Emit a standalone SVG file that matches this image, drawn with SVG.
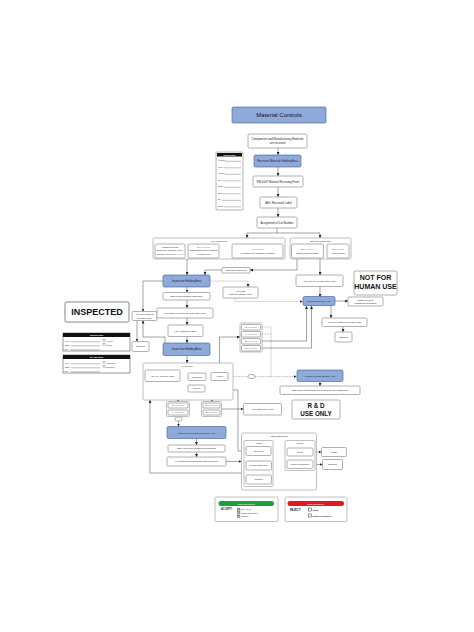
<svg xmlns="http://www.w3.org/2000/svg" width="474" height="632" viewBox="0 0 474 632">
<defs>
<marker id="ah" viewBox="0 0 6 6" refX="6" refY="3" markerWidth="3" markerHeight="3" markerUnits="userSpaceOnUse" orient="auto"><path d="M0,0 L6,3 L0,6 z" fill="#222"/></marker>
<style>
.b{fill:#fff;stroke:#707070;stroke-width:0.55}
.g{fill:#fff;stroke:#8a8a8a;stroke-width:0.55}
.h{fill:#8eaadb;stroke:#3d5a8a;stroke-width:0.6}
.t{font-family:"Liberation Sans",Arial,sans-serif;font-size:2.8px;fill:#222;text-anchor:middle}
.s{font-family:"Liberation Sans",Arial,sans-serif;font-size:2.35px;fill:#222;text-anchor:middle}
.l{font-family:"Liberation Sans",Arial,sans-serif;font-size:2.2px;fill:#222}
.big{font-family:"Liberation Sans",Arial,sans-serif;font-weight:bold;fill:#111;text-anchor:middle}
.c{fill:none;stroke:#333;stroke-width:0.45}
.ca{fill:none;stroke:#333;stroke-width:0.45;marker-end:url(#ah)}
.d{fill:none;stroke:#555;stroke-width:0.45;stroke-dasharray:0.8 0.8}
.da{fill:none;stroke:#555;stroke-width:0.45;stroke-dasharray:0.8 0.8;marker-end:url(#ah)}
.fl{stroke:#222;stroke-width:0.3}
</style>
</defs>
<rect width="474" height="632" fill="#fff"/>

<g id="connectors">
<path class="ca" d="M278,148 V155"/>
<path class="ca" d="M278,167 V176"/>
<path class="ca" d="M278,187 V197"/>
<path class="ca" d="M278,208 V217"/>
<path class="c" d="M277,228 V233"/>
<path class="ca" d="M277,233 H247 V238"/>
<path class="ca" d="M277,233 H320 V238"/>
<path class="ca" d="M187,259 V275"/>
<path class="ca" d="M297,258 V270 H250"/>
<path class="ca" d="M222,270 H205 V275"/>
<path class="ca" d="M320,259 V275"/>
<path class="ca" d="M320,286.5 V297"/>
<path class="ca" d="M335,301 H348"/>
<path class="ca" d="M331,305.5 V318"/>
<path class="ca" d="M343,326.5 V332"/>
<path class="da" d="M210,281 H248 V287"/>
<path class="da" d="M235,298 V301.5 H302.5"/>
<path class="ca" d="M163,281 H143 V311.5"/>
<path class="ca" d="M165,343 V337 H143 V320.5"/>
<path class="ca" d="M137,320.5 V341.5"/>
<path class="ca" d="M187,287 V292.5"/>
<path class="ca" d="M187,300 V308"/>
<path class="ca" d="M187,318 V325"/>
<path class="ca" d="M187,336.5 V343"/>
<path class="ca" d="M187,355.5 V363"/>
<path class="ca" d="M180,376 H188"/>
<path class="ca" d="M206,376.5 H211"/>
<path class="ca" d="M197,380.5 V385"/>
<path class="ca" d="M219.5,372.5 V337 H240"/>
<path class="da" d="M228,376.5 H296.5"/>
<path class="d" d="M262,327 H271 V376.5"/>
<path class="d" d="M262,334 H271"/>
<path class="ca" d="M262,341 H306.5 V306"/>
<path class="ca" d="M262,348 H311.5 V306"/>
<path class="ca" d="M320,381.5 V386"/>
<path class="c" d="M196.5,392 V396 M178,396 H212"/>
<path class="ca" d="M178,396 V401.5"/>
<path class="ca" d="M212,396 V401.5"/>
<path class="ca" d="M178.5,421 V426.5"/>
<path class="ca" d="M221.5,409 H243.5"/>
<path class="ca" d="M196.5,438.5 V445"/>
<path class="ca" d="M196.5,452 V457"/>
<path class="ca" d="M226,461.5 H241.5"/>
<path class="c" d="M258.5,470 V475"/>
<path class="ca" d="M258.5,473 H150 V400"/>
<path class="ca" d="M246,451 H238 V390 H219.5 V381"/>
<path class="ca" d="M313,452 H321.5"/>
<path class="ca" d="M313,464.5 H322.5"/>
<rect x="248" y="374.5" width="7" height="4" rx="2" class="b"/>
<rect x="175" y="417" width="7" height="4" rx="2" class="b"/>
</g>

<g id="title"><rect x="232" y="107" width="94" height="16" rx="1.5" class="h"/><text x="279" y="117" class="big" style="font-weight:normal;font-size:6px">Material Controls</text></g>

<g id="received"><rect x="248" y="134" width="59" height="14" rx="1.5" class="b"/><text x="277.5" y="140" class="t">Components and Manufacturing Materials</text><text x="277.5" y="144" class="t">are received</text></g>
<g id="rmha"><rect x="254" y="155" width="47" height="12" rx="1.5" class="h"/><text x="277.5" y="162" class="t">Received Materials Holding Area</text></g>
<g id="fm0007"><rect x="253" y="176" width="50" height="11" rx="1.5" class="b"/><text x="278" y="182.5" class="t">FM-0007 Material Receiving Form</text></g>
<g id="affixrec"><rect x="260" y="197" width="37" height="11" rx="1.5" class="b"/><text x="278.5" y="203.5" class="t">Affix 'Received' Label</text></g>
<g id="lotnum"><rect x="257" y="217" width="40" height="11" rx="1.5" class="b"/><text x="277" y="223.5" class="t">Assignment of Lot Number</text></g>

<g id="recvtag">
<rect x="216" y="152" width="27" height="58" rx="1" fill="#fff" stroke="#666" stroke-width="0.5"/>
<rect x="217" y="153" width="25" height="3.5" fill="#111"/>
<text x="229.5" y="155.6" class="s" style="fill:#fff;font-weight:bold">RECEIVED</text>
<text x="218" y="161" class="l">Vendor:</text><line x1="225" y1="161.3" x2="241" y2="161.3" class="fl"/>
<text x="218" y="167.5" class="l">P.O.#:</text><line x1="224" y1="167.8" x2="241" y2="167.8" class="fl"/>
<text x="218" y="174" class="l">Lot No.:</text><line x1="225" y1="174.3" x2="241" y2="174.3" class="fl"/>
<text x="218" y="180.5" class="l">Qty.:</text><line x1="223" y1="180.8" x2="241" y2="180.8" class="fl"/>
<text x="218" y="187" class="l">Desc.:</text><line x1="224" y1="187.3" x2="241" y2="187.3" class="fl"/>
<text x="218" y="193.5" class="l">Date:</text><line x1="223" y1="193.8" x2="241" y2="193.8" class="fl"/>
<text x="218" y="200" class="l">By:</text><line x1="222" y1="200.3" x2="241" y2="200.3" class="fl"/>
<text x="218" y="206.5" class="l">Dept.:</text><line x1="224" y1="206.8" x2="241" y2="206.8" class="fl"/>
</g>

<g id="humanuse">
<rect x="153" y="238" width="132" height="21" rx="1.5" class="g"/>
<text x="219" y="241.8" class="s">For Human Use</text>
<rect x="155" y="244" width="30" height="14" rx="1.2" class="b"/>
<text x="170" y="248" class="s">Finished Goods</text>
<text x="170" y="251.3" class="s" textLength="27" lengthAdjust="spacingAndGlyphs">External: Unique Lot #</text>
<text x="170" y="254.6" class="s" textLength="27" lengthAdjust="spacingAndGlyphs">Internal: XLC(1)-(R-#####)</text>
<rect x="188" y="244" width="31" height="14" rx="1.2" class="b"/>
<text x="203.5" y="248" class="s">M-YY-XXXX</text>
<text x="203.5" y="251.3" class="s" textLength="28" lengthAdjust="spacingAndGlyphs">Manufacturing Lot Build</text>
<text x="203.5" y="254.6" class="s">(Human Use)</text>
<rect x="232" y="244" width="51" height="14" rx="1.2" class="b"/>
<text x="257.5" y="250" class="s">V-YY-XXXX</text>
<text x="257.5" y="253.5" class="s">Verification &amp; Validation Lot Build</text>
</g>

<g id="notforhuman">
<rect x="290" y="238" width="61" height="21" rx="1.5" class="g"/>
<text x="320.5" y="241.8" class="s">Not For Human Use</text>
<rect x="291.5" y="244" width="32" height="14" rx="1.2" class="b"/>
<text x="307.5" y="250" class="s">E-YY-XXXX</text>
<text x="307.5" y="253.5" class="s">Engineering Lot Build</text>
<rect x="327" y="244" width="22" height="14" rx="1.2" class="b"/>
<text x="338" y="250" class="s">S-YY-XXXX</text>
<text x="338" y="253.5" class="s">Alpha release</text>
</g>

<g id="iha1"><rect x="163" y="275" width="47" height="12" rx="1.5" class="h"/><text x="186.5" y="282" class="t">Inspection Holding Area</text></g>
<g id="checklist"><rect x="222" y="267.5" width="28" height="5.5" rx="1" class="b"/><text x="236" y="271" class="s">Inspection Checklist</text></g>
<g id="transfer"><rect x="223" y="287" width="35" height="11" rx="1.2" class="b"/><text x="240.5" y="291.5" class="s">FM-0023</text><text x="240.5" y="295" class="s">Material Transfer Form</text></g>
<g id="affixnfhu"><rect x="296" y="275" width="47" height="11.5" rx="1.5" class="b"/><text x="319.5" y="281.8" class="s">Affix 'Not For Human Use' Label</text></g>
<g id="msa"><rect x="303" y="296.5" width="32" height="9" rx="1.5" class="h"/><text x="319" y="302" class="s">Materials Storage Area</text></g>
<g id="wims"><rect x="348" y="297" width="35" height="9" rx="1.2" class="b"/><text x="365.5" y="300.8" class="s">Waste Inventory</text><text x="365.5" y="304" class="s">Management System</text></g>
<g id="relform"><rect x="322" y="318" width="45" height="8.5" rx="1.2" class="b"/><text x="344.5" y="323" class="s">FM-0069 Material Release Form</text></g>
<g id="shipped1"><rect x="335" y="332" width="17" height="10" rx="1.2" class="b"/><text x="343.5" y="337.8" class="s">Shipped</text></g>
<g id="nfhu"><rect x="354" y="271" width="43" height="24" rx="1.5" class="b"/><text x="375.5" y="280.3" class="big" style="font-size:7px">NOT FOR</text><text x="375.5" y="289.3" class="big" style="font-size:7px">HUMAN USE</text></g>

<g id="inspected"><rect x="65" y="302" width="64" height="20" rx="1.5" fill="#fff" stroke="#333" stroke-width="0.6"/><text x="97" y="315.3" class="big" style="font-size:9px">INSPECTED</text></g>
<g id="tag1">
<rect x="63" y="333" width="67" height="18" fill="#fff" stroke="#333" stroke-width="0.5"/>
<rect x="63" y="333" width="67" height="4" fill="#111"/>
<text x="96.5" y="336.2" class="s" style="fill:#fff;font-weight:bold">INSPECTED</text>
<text x="65" y="341.5" class="l">Lot #:</text><line x1="71" y1="341.8" x2="100" y2="341.8" class="fl"/>
<rect x="103" y="339.6" width="2" height="2" fill="none" stroke="#222" stroke-width="0.25"/><text x="106" y="341.5" class="l">Accept</text>
<text x="65" y="345.5" class="l">Date:</text><line x1="71" y1="345.8" x2="100" y2="345.8" class="fl"/>
<rect x="103" y="343.6" width="2" height="2" fill="none" stroke="#222" stroke-width="0.25"/><text x="106" y="345.5" class="l">Reject</text>
<text x="65" y="349.5" class="l">By:</text><line x1="71" y1="349.8" x2="100" y2="349.8" class="fl"/>
</g>
<g id="tag2">
<rect x="63" y="355" width="67" height="18" fill="#fff" stroke="#333" stroke-width="0.5"/>
<rect x="63" y="355" width="67" height="4" fill="#111"/>
<text x="96.5" y="358.2" class="s" style="fill:#fff;font-weight:bold">QA REVIEW</text>
<text x="65" y="363.5" class="l">Lot #:</text><line x1="71" y1="363.8" x2="100" y2="363.8" class="fl"/>
<rect x="103" y="361.6" width="2" height="2" fill="none" stroke="#222" stroke-width="0.25"/><text x="106" y="363.5" class="l">Approved</text>
<text x="65" y="367.5" class="l">Date:</text><line x1="71" y1="367.8" x2="100" y2="367.8" class="fl"/>
<rect x="103" y="365.6" width="2" height="2" fill="none" stroke="#222" stroke-width="0.25"/><text x="106" y="367.5" class="l">Rejected</text>
<text x="65" y="371.5" class="l">By:</text><line x1="71" y1="371.8" x2="100" y2="371.8" class="fl"/>
</g>

<g id="relform2"><rect x="132" y="311.5" width="25" height="9" rx="1.2" class="b"/><text x="144.5" y="315.3" class="s">FM-0069 Material</text><text x="144.5" y="318.5" class="s">Release Form</text></g>
<g id="shipped2"><rect x="132" y="341.5" width="17" height="10" rx="1.2" class="b"/><text x="140.5" y="347.3" class="s">Shipped</text></g>

<g id="sop0015"><rect x="163" y="292.5" width="47" height="7.5" rx="1.2" class="b"/><text x="186.5" y="297.2" class="s">SOP-0015 Incoming Inspection</text></g>
<g id="fm0038"><rect x="157" y="308" width="56" height="10" rx="1.2" class="b"/><text x="185" y="313.8" class="s">FM-0038 / 01 Incoming Inspection Form</text></g>
<g id="affixinsp"><rect x="168" y="325" width="35" height="11.5" rx="1.2" class="b"/><text x="185.5" y="331.5" class="s">Affix 'Inspected' Label</text></g>
<g id="iha2"><rect x="163" y="343" width="47" height="12.5" rx="1.5" class="h"/><text x="186.5" y="350.2" class="t">Inspection Holding Area</text></g>

<g id="qareview">
<rect x="143" y="363" width="90" height="37" rx="1.5" class="g"/>
<text x="187" y="366.8" class="s">QA Review</text>
<rect x="145" y="370" width="35" height="11.5" rx="1.2" class="b"/><text x="162.5" y="376.6" class="s">Affix 'QA Review' Label</text>
<rect x="188" y="373" width="18" height="7.5" rx="1.2" class="b"/><text x="197" y="377.5" class="s">Complete</text>
<rect x="211" y="372.5" width="17" height="8" rx="1.2" class="b"/><text x="219.5" y="377.3" class="s">Accept</text>
<rect x="188" y="385" width="17" height="7" rx="1.2" class="b"/><text x="196.5" y="389.3" class="s">Reject</text>
</g>

<g id="stack">
<rect x="240" y="323" width="22" height="29" rx="1.2" class="g"/>
<rect x="241.5" y="324.5" width="19" height="5.5" rx="0.8" class="b"/><text x="251" y="328" class="s">M-YY-XXXX</text>
<rect x="241.5" y="331.5" width="19" height="5.5" rx="0.8" class="b"/><text x="251" y="335" class="s">V-YY-XXXX</text>
<rect x="241.5" y="338.5" width="19" height="5.5" rx="0.8" class="b"/><text x="251" y="342" class="s">E-YY-XXXX</text>
<rect x="241.5" y="345.5" width="19" height="5.5" rx="0.8" class="b"/><text x="251" y="349" class="s">S-YY-XXXX</text>
</g>

<g id="fgsa"><rect x="297" y="370" width="46" height="11.5" rx="1.5" class="h"/><text x="320" y="376.8" class="s">Finished Goods Storage Area</text></g>
<g id="sop0021"><rect x="280" y="386" width="80" height="8.5" rx="1.2" class="b"/><text x="320" y="391.2" class="s">SOP-0021 Commercial and Clinical Device Distribution</text></g>

<g id="rejleft">
<rect x="166.5" y="401.5" width="23" height="15" rx="1.2" class="g"/>
<rect x="168" y="403" width="20" height="5" rx="0.8" class="b"/><text x="178" y="406.3" class="s">M-YY-XXXX</text>
<rect x="168" y="410" width="20" height="5" rx="0.8" class="b"/><text x="178" y="413.3" class="s">V-YY-XXXX</text>
</g>
<g id="rejright">
<rect x="201.5" y="401.5" width="20" height="15" rx="1.2" class="g"/>
<rect x="203" y="403" width="17" height="5" rx="0.8" class="b"/><text x="211.5" y="406.3" class="s">S-YY-XXXX</text>
<rect x="203" y="410" width="17" height="5" rx="0.8" class="b"/><text x="211.5" y="413.3" class="s">E-YY-XXXX</text>
</g>

<g id="affixrd"><rect x="243.5" y="403.5" width="38" height="11.5" rx="1.2" class="b"/><text x="262.5" y="410" class="s">Affix 'R&amp;D Use' Label</text></g>
<g id="rduse"><rect x="292" y="400" width="48" height="19" rx="1.5" class="b"/><text x="316" y="407.6" class="big" style="font-size:6.3px">R &amp; D</text><text x="316" y="416" class="big" style="font-size:6.3px">USE ONLY</text></g>

<g id="mrbha"><rect x="167" y="426.5" width="59" height="12" rx="1.5" class="h"/><text x="196.5" y="433.5" class="s">Material Review Board Holding Area</text></g>
<g id="sop0019"><rect x="168" y="445" width="57" height="7" rx="1.2" class="b"/><text x="196.5" y="449.3" class="s">SOP-0019 Non Conforming Materials</text></g>
<g id="fm0026"><rect x="167" y="457" width="59" height="9" rx="1.2" class="b"/><text x="196.5" y="462.3" class="s">FM-0026 Nonconforming Material Report</text></g>

<g id="mrbdisp">
<rect x="241.5" y="433" width="75" height="57" rx="1.5" class="g"/>
<text x="279" y="437" class="s">MRB Disposition</text>
<rect x="244" y="440.5" width="29" height="46" rx="1.2" class="g"/>
<text x="258.5" y="444" class="s">Accept</text>
<rect x="246" y="446.5" width="25" height="9" rx="1.2" class="b"/><text x="258.5" y="451.8" class="s">Use as Is</text>
<rect x="246" y="461" width="25.5" height="9" rx="1.2" class="b"/><text x="258.7" y="466.3" class="s">NVD's Inspection</text>
<rect x="246" y="475" width="25.5" height="9" rx="1.2" class="b"/><text x="258.7" y="480.3" class="s">Rework</text>
<rect x="285" y="440.5" width="30" height="30" rx="1.2" class="g"/>
<text x="300" y="444" class="s">Reject</text>
<rect x="287" y="448" width="26" height="8" rx="1.2" class="b"/><text x="300" y="452.8" class="s">Scrap</text>
<rect x="287" y="460" width="26" height="8.5" rx="1.2" class="b"/><text x="300" y="465" class="s">Return to Supplier</text>
</g>
<g id="waste"><rect x="321.5" y="447.5" width="25" height="9" rx="1.2" class="b"/><text x="334" y="452.8" class="s">Waste</text></g>
<g id="shipped3"><rect x="322.5" y="459.5" width="20" height="10" rx="1.2" class="b"/><text x="332.5" y="465.3" class="s">Shipped</text></g>

<g id="legend-accept">
<rect x="215" y="497" width="63" height="24.5" rx="1.5" class="g"/>
<rect x="218.5" y="501" width="55.5" height="5" rx="2.5" fill="#1f9e3c"/>
<text x="246.2" y="504.6" class="s" style="fill:#fff">MRB Disposition</text>
<text x="221" y="510.4" class="l" style="font-weight:bold;font-size:2.6px">ACCEPT:</text>
<rect x="237.5" y="508.2" width="2.4" height="2.4" fill="#fff" stroke="#222" stroke-width="0.35"/><path d="M237.8,508.5 L239.6,510.3 M239.6,508.5 L237.8,510.3" stroke="#222" stroke-width="0.4"/><text x="241" y="510.4" class="l">Use As Is</text>
<rect x="237.5" y="511.7" width="2.4" height="2.4" fill="#fff" stroke="#222" stroke-width="0.35"/><path d="M237.8,512 L239.6,513.8 M239.6,512 L237.8,513.8" stroke="#222" stroke-width="0.4"/><text x="241" y="513.9" class="l">NVD's Inspection</text>
<rect x="237.5" y="515.2" width="2.4" height="2.4" fill="#fff" stroke="#222" stroke-width="0.35"/><path d="M237.8,515.5 L239.6,517.3 M239.6,515.5 L237.8,517.3" stroke="#222" stroke-width="0.4"/><text x="241" y="517.4" class="l">Rework</text>
</g>
<g id="legend-reject">
<rect x="285" y="497" width="62" height="24.5" rx="1.5" class="g"/>
<rect x="287.5" y="501" width="56.5" height="5" rx="2.5" fill="#e3191f"/>
<text x="315.7" y="504.6" class="s" style="fill:#fff">MRB Disposition</text>
<text x="290" y="510.6" class="l" style="font-weight:bold;font-size:2.6px">REJECT:</text>
<rect x="308.3" y="508" width="3" height="3" fill="#fff" stroke="#222" stroke-width="0.45"/><text x="312.5" y="510.6" class="l" style="font-weight:bold">Scrap</text>
<rect x="308.3" y="514" width="3" height="3" fill="#fff" stroke="#222" stroke-width="0.45"/><text x="312.5" y="516.6" class="l" style="font-weight:bold">Return to Supplier</text>
</g>
</svg>
